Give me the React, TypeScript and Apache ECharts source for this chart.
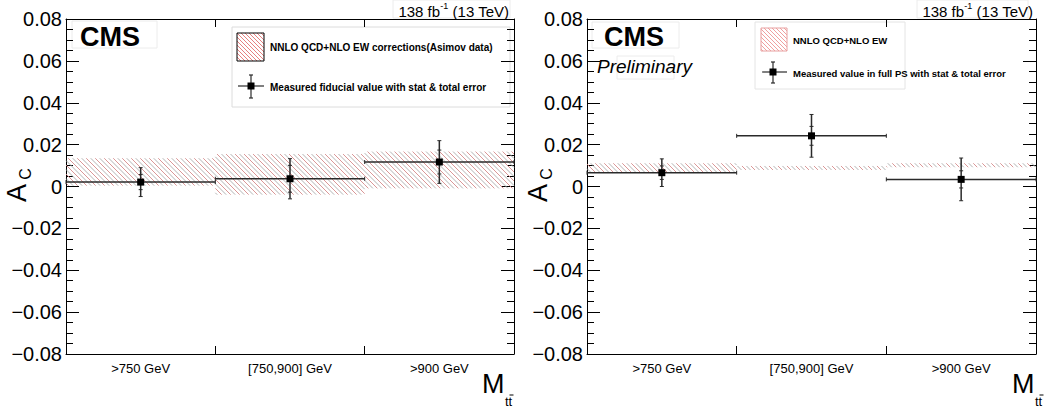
import React, { useEffect, useRef } from "react";
import * as echarts from "echarts";

const categories = [">750 GeV", "[750,900] GeV", ">900 GeV"];
const yTicks = { min: -0.08, max: 0.08, interval: 0.02 };

// Left panel: fiducial
const leftMeasured = [0.0021, 0.0037, 0.0117];
const leftStat = [0.0036, 0.0064, 0.0057];
const leftTotal = [0.0069, 0.0096, 0.0102];
const leftBandLow = [0.0004, -0.0039, -0.0009];
const leftBandHigh = [0.0135, 0.0155, 0.0167];

// Right panel: full phase space
const rightMeasured = [0.0066, 0.0242, 0.0034];
const rightStat = [0.0032, 0.0045, 0.0041];
const rightTotal = [0.0066, 0.0102, 0.0102];
const rightBandLow = [0.0066, 0.0079, 0.0092];
const rightBandHigh = [0.0111, 0.0098, 0.0111];

const FONT = '"Liberation Sans", Arial, Helvetica, sans-serif';
const HATCH_COLORS = ["#d68a8a", "#a9a9a9"];

function hatchLines(x0: number, y0: number, x1: number, y1: number, spacing: number, colors: string[], lw = 1) {
  const out: any[] = [];
  const cStart = Math.ceil((x0 - y1) / spacing);
  const cEnd = Math.floor((x1 - y0) / spacing);
  for (let k = cStart; k <= cEnd; k++) {
    const c = k * spacing;
    const xs = Math.max(x0, y0 + c);
    const xe = Math.min(x1, y1 + c);
    if (xe - xs < 0.5) continue;
    const col = colors[((k % colors.length) + colors.length) % colors.length];
    out.push({
      type: "line",
      silent: true,
      shape: { x1: xs, y1: xs - c, x2: xe, y2: xe - c },
      style: { stroke: col, lineWidth: lw },
    });
  }
  return out;
}

function bandSeries(xIdx: number, yIdx: number, low: number[], high: number[]) {
  return {
    type: "custom",
    xAxisIndex: xIdx,
    yAxisIndex: yIdx,
    silent: true,
    clip: false,
    data: categories.map((_, i) => [i, low[i], high[i]]),
    renderItem: (params: any, api: any) => {
      const i = api.value(0);
      const pLow = api.coord([i, api.value(1)]);
      const pHigh = api.coord([i, api.value(2)]);
      const bw = api.size([1, 0])[0];
      const x0 = pLow[0] - bw / 2;
      const x1 = pLow[0] + bw / 2;
      return {
        type: "group",
        children: hatchLines(x0, pHigh[1], x1, pLow[1], 4.5, HATCH_COLORS, 0.9),
      };
    },
  };
}

function pointSeries(xIdx: number, yIdx: number, val: number[], stat: number[], total: number[]) {
  return {
    type: "custom",
    xAxisIndex: xIdx,
    yAxisIndex: yIdx,
    silent: true,
    clip: false,
    z: 5,
    data: categories.map((_, i) => [i, val[i], stat[i], total[i]]),
    renderItem: (params: any, api: any) => {
      const i = api.value(0);
      const v = api.value(1);
      const s = api.value(2);
      const t = api.value(3);
      const c = api.coord([i, v]);
      const tHi = api.coord([i, v + t])[1];
      const tLo = api.coord([i, v - t])[1];
      const sHi = api.coord([i, v + s])[1];
      const sLo = api.coord([i, v - s])[1];
      const bw = api.size([1, 0])[0];
      const xl = c[0] - bw / 2;
      const xr = c[0] + bw / 2;
      const st = { stroke: "#2a2a2a", lineWidth: 1.5 };
      const st2 = { stroke: "#2a2a2a", lineWidth: 1 };
      return {
        type: "group",
        children: [
          { type: "line", shape: { x1: xl, y1: c[1], x2: xr, y2: c[1] }, style: st },
          { type: "line", shape: { x1: xl, y1: c[1] - 2, x2: xl, y2: c[1] + 2 }, style: st2 },
          { type: "line", shape: { x1: xr, y1: c[1] - 2, x2: xr, y2: c[1] + 2 }, style: st2 },
          { type: "line", shape: { x1: c[0], y1: tHi, x2: c[0], y2: tLo }, style: st },
          { type: "line", shape: { x1: c[0] - 2, y1: tHi, x2: c[0] + 2, y2: tHi }, style: st2 },
          { type: "line", shape: { x1: c[0] - 2, y1: tLo, x2: c[0] + 2, y2: tLo }, style: st2 },
          { type: "line", shape: { x1: c[0] - 2, y1: sHi, x2: c[0] + 2, y2: sHi }, style: st2 },
          { type: "line", shape: { x1: c[0] - 2, y1: sLo, x2: c[0] + 2, y2: sLo }, style: st2 },
          { type: "rect", shape: { x: c[0] - 3.5, y: c[1] - 3.5, width: 7, height: 7 }, style: { fill: "#000" } },
        ],
      };
    },
  };
}

const fmt = (v: number) => {
  if (Math.abs(v) < 1e-9) return "0";
  return (v < 0 ? "\u2212" : "") + Math.abs(v).toFixed(2);
};

function xAxes(grid: number) {
  const common = {
    type: "category",
    data: categories,
    gridIndex: grid,
    boundaryGap: true,
    axisLine: { show: true, onZero: false, lineStyle: { color: "#000", width: 1 } },
    axisTick: { show: true, inside: true, length: 8, lineStyle: { color: "#000" } },
    splitLine: { show: false },
  };
  return [
    {
      ...common,
      position: "bottom",
      axisLabel: { show: true, color: "#000", fontSize: 13, fontFamily: FONT, margin: 8 },
    },
    { ...common, position: "top", axisLabel: { show: false } },
  ];
}

function yAxes(grid: number) {
  const common = {
    type: "value",
    gridIndex: grid,
    ...yTicks,
    axisLine: { show: true, onZero: false, lineStyle: { color: "#000", width: 1 } },
    axisTick: { show: true, inside: true, length: 13, lineStyle: { color: "#000" } },
    minorTick: { show: true, splitNumber: 4, length: 7, lineStyle: { color: "#000" } },
    splitLine: { show: false },
  };
  return [
    {
      ...common,
      position: "left",
      axisLabel: { show: true, color: "#000", fontSize: 20, fontFamily: FONT, margin: 4, formatter: fmt },
    },
    { ...common, position: "right", axisLabel: { show: false } },
  ];
}

function txt(x: number, y: number, text: string, size: number, extra: any = {}) {
  return {
    type: "text",
    x,
    y,
    silent: true,
    style: {
      text,
      fontSize: size,
      fontFamily: FONT,
      fill: "#000",
      textAlign: "left",
      textVerticalAlign: "middle",
      ...extra,
    },
  };
}

function faintBox(x: number, y: number, w: number, h: number) {
  return {
    type: "rect",
    silent: true,
    shape: { x, y, width: w, height: h },
    style: { fill: "none", stroke: "#ececec", lineWidth: 1 },
  };
}

function lumiText(xRight: number) {
  return {
    type: "text",
    x: xRight,
    y: 10,
    silent: true,
    style: {
      text: "{n|138 fb}{s|-1}{n| (13 TeV)}",
      textAlign: "right",
      textVerticalAlign: "middle",
      fill: "#000",
      rich: {
        n: { fontSize: 15, fontFamily: FONT, fill: "#000", lineHeight: 17, verticalAlign: "bottom" },
        s: { fontSize: 9, fontFamily: FONT, fill: "#000", lineHeight: 17, verticalAlign: "top" },
      },
    },
  };
}

function legendMarker(cx: number, cy: number, x0: number, x1: number, yTop: number, yBot: number) {
  const st = { stroke: "#2a2a2a", lineWidth: 1.2 };
  return [
    { type: "line", silent: true, shape: { x1: x0, y1: cy, x2: x1, y2: cy }, style: st },
    { type: "line", silent: true, shape: { x1: cx, y1: yTop, x2: cx, y2: yBot }, style: st },
    { type: "line", silent: true, shape: { x1: cx - 2, y1: yTop, x2: cx + 2, y2: yTop }, style: st },
    { type: "line", silent: true, shape: { x1: cx - 2, y1: yBot, x2: cx + 2, y2: yBot }, style: st },
    { type: "rect", silent: true, shape: { x: cx - 3.5, y: cy - 3.5, width: 7, height: 7 }, style: { fill: "#000" } },
  ];
}

function axisTitles(aX: number, mX: number) {
  return [
    { type: "text", x: aX, y: 193, rotation: Math.PI / 2, silent: true,
      style: { text: "A", fontSize: 27, fontFamily: FONT, fill: "#000", textAlign: "center", textVerticalAlign: "middle" } },
    { type: "text", x: aX + 8, y: 174, rotation: Math.PI / 2, silent: true,
      style: { text: "C", fontSize: 16, fontFamily: FONT, fill: "#000", textAlign: "center", textVerticalAlign: "middle" } },
    txt(mX, 384, "M", 27),
    txt(mX + 23, 401, "tt", 13),
    { type: "line", silent: true, shape: { x1: mX + 27.5, y1: 395, x2: mX + 31.5, y2: 395 }, style: { stroke: "#000", lineWidth: 1 } },
  ];
}

export default function App() {
  const ref = useRef<HTMLDivElement>(null);
  useEffect(() => {
    if (!ref.current) return;
    const chart = echarts.init(ref.current, null, { renderer: "svg" });
    const graphic: any[] = [
      // left panel decorations
      faintBox(72, 21, 85, 27),
      faintBox(393, 0, 117, 18),
      lumiText(509),
      txt(80, 37, "CMS", 27, { fontWeight: "bold" }),
      { type: "rect", silent: true, shape: { x: 232, y: 27, width: 278, height: 80 }, style: { fill: "#fff", stroke: "#dcdcdc", lineWidth: 1 } },
      ...hatchLines(237, 33, 264, 61, 4, ["#e68080"], 1),
      { type: "rect", silent: true, shape: { x: 237, y: 33, width: 27, height: 28 }, style: { fill: "none", stroke: "#000", lineWidth: 1 } },
      txt(270, 47, "NNLO QCD+NLO EW corrections(Asimov data)", 10, { fontWeight: "bold" }),
      ...legendMarker(251, 86, 238, 264, 75, 98),
      txt(270, 87, "Measured fiducial value with stat & total error", 10, { fontWeight: "bold" }),
      ...axisTitles(17, 482),

      // right panel decorations
      faintBox(592, 22, 87, 26),
      faintBox(617, 56, 57, 23),
      faintBox(917, 0, 111, 18),
      lumiText(1033),
      txt(604, 37, "CMS", 27, { fontWeight: "bold" }),
      txt(597, 66, "Preliminary", 19, { fontStyle: "italic" }),
      { type: "rect", silent: true, shape: { x: 755, y: 22, width: 150, height: 67 }, style: { fill: "#fff", stroke: "#e4e4e4", lineWidth: 1 } },
      ...hatchLines(761, 28, 787, 51, 4, ["#f0a0a0"], 1),
      { type: "rect", silent: true, shape: { x: 761, y: 28, width: 26, height: 23 }, style: { fill: "none", stroke: "#e8a0a0", lineWidth: 1 } },
      txt(793, 40, "NNLO QCD+NLO EW", 9.5, { fontWeight: "bold" }),
      ...legendMarker(773, 72, 762, 787, 62, 83),
      txt(793, 73, "Measured value in full PS with stat & total error", 9.5, { fontWeight: "bold" }),
      ...axisTitles(538, 1012),
    ];

    chart.setOption({
      animation: false,
      backgroundColor: "#fff",
      grid: [
        { left: 66, top: 19, width: 448, height: 335 },
        { left: 587, top: 19, width: 449, height: 335 },
      ],
      xAxis: [...xAxes(0), ...xAxes(1)],
      yAxis: [...yAxes(0), ...yAxes(1)],
      series: [
        bandSeries(0, 0, leftBandLow, leftBandHigh),
        pointSeries(0, 0, leftMeasured, leftStat, leftTotal),
        bandSeries(2, 2, rightBandLow, rightBandHigh),
        pointSeries(2, 2, rightMeasured, rightStat, rightTotal),
      ],
      graphic,
    });
    return () => chart.dispose();
  }, []);
  return <div ref={ref} style={{ position: "absolute", left: 0, top: 0, width: 1048, height: 412 }} />;
}
